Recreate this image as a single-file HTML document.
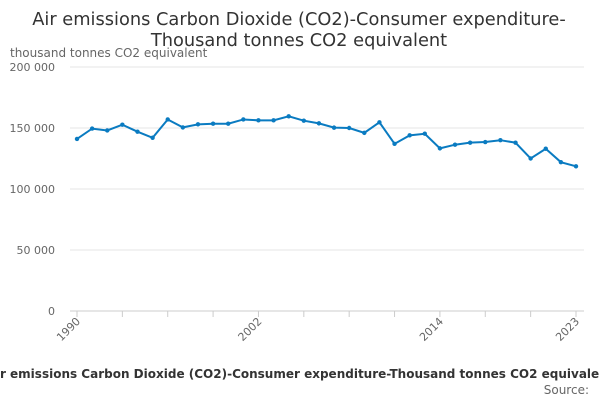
<!DOCTYPE html>
<html><head><meta charset="utf-8"><style>
body{margin:0;width:600px;height:400px;overflow:hidden;background:#fff;font-family:"DejaVu Sans","Liberation Sans",sans-serif}
</style></head><body>
<svg width="600" height="400" xmlns="http://www.w3.org/2000/svg" font-family="DejaVu Sans, Liberation Sans, sans-serif">
<text x="299" y="25" text-anchor="middle" font-size="17.8" fill="#333">Air emissions Carbon Dioxide (CO2)-Consumer expenditure-</text>
<text x="299" y="46" text-anchor="middle" font-size="17.8" fill="#333">Thousand tonnes CO2 equivalent</text>
<text x="10" y="57" font-size="12" fill="#666">thousand tonnes CO2 equivalent</text>
<g id="grid"></g><g id="xaxis"></g><g id="series"></g>
<text x="300" y="378" text-anchor="middle" font-size="12" font-weight="bold" fill="#333">Air emissions Carbon Dioxide (CO2)-Consumer expenditure-Thousand tonnes CO2 equivalent</text>
<text x="589" y="394" text-anchor="end" font-size="12" fill="#666">Source:</text>
</svg>
<script>
const years=[1990,1991,1992,1993,1994,1995,1996,1997,1998,1999,2000,2001,2002,2003,2004,2005,2006,2007,2008,2009,2010,2011,2012,2013,2014,2015,2016,2017,2018,2019,2020,2021,2022,2023];
const values=[141000,149500,148000,152700,147000,142000,157000,150500,153000,153500,153500,157000,156300,156300,159600,156000,153800,150300,150000,146000,154700,137000,144000,145300,133300,136300,138000,138500,140000,138000,125000,133000,122000,118600];
const yTicks=[0,50000,100000,150000,200000];
const yTickLabels=["0","50 000","100 000","150 000","200 000"];
const xLabelYears=[1990,2002,2014,2023];
const NS="http://www.w3.org/2000/svg";
const x=y=>77+(y-1990)*(576-77)/33;
const yv=v=>311-v*(311-67)/200000;
function mk(t,a,p){const e=document.createElementNS(NS,t);for(const k in a)e.setAttribute(k,a[k]);p.appendChild(e);return e;}
const g=document.getElementById('grid');
yTicks.forEach((v,i)=>{
 const l=mk('line',{x1:70,x2:584,y1:yv(v),y2:yv(v),stroke:v===0?'#ccc':'#e6e6e6','stroke-width':1},g);
 
 
 const t=mk('text',{x:55,y:yv(v)+4,'text-anchor':'end','font-size':11,fill:'#666'},g);
 t.textContent=yTickLabels[i];
 
 
});
const xa=document.getElementById('xaxis');
for(let yr=1990;yr<=2023;yr+=3){
 const tk=mk('line',{x1:x(yr),x2:x(yr),y1:311,y2:317,stroke:'#ccc'},xa);
 
 
}
const tk2=mk('line',{x1:x(2023),x2:x(2023),y1:311,y2:317,stroke:'#ccc'},xa);


xLabelYears.forEach(yr=>{
 const t=mk('text',{x:x(yr)+4,y:322,'text-anchor':'end','font-size':11,fill:'#666',transform:`rotate(-45 ${x(yr)+4} 322)`},xa);
 t.textContent=yr;
 
 
});
const s=document.getElementById('series');
const path=mk('path',{d:years.map((yr,i)=>(i?'L':'M')+x(yr)+' '+yv(values[i])).join(' '),fill:'none',stroke:'#0a7bc1','stroke-width':2},s);


years.forEach((yr,i)=>{
 const c=mk('circle',{cx:x(yr),cy:yv(values[i]),r:2.2,fill:'#0a7bc1'},s);
 
 
});
</script>
</body></html>
